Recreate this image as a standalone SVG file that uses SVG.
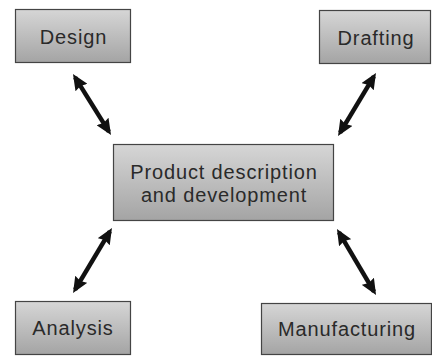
<svg xmlns="http://www.w3.org/2000/svg" width="432" height="356" viewBox="0 0 432 356">
<style>
.box{fill:url(#g);stroke:#444;stroke-width:1.2}
.lbl{font-family:"Liberation Sans",Arial,sans-serif;font-size:20px;letter-spacing:0.85px;fill:#2a2a2a;text-anchor:middle}
.con{stroke:#111;stroke-width:4.5;fill:none;marker-start:url(#ah);marker-end:url(#ah)}
</style>
<defs>
<linearGradient id="g" x1="0" y1="0" x2="0" y2="1">
<stop offset="0" stop-color="#d6d6d6"/>
<stop offset="1" stop-color="#a4a4a4"/>
</linearGradient>
<marker id="ah" markerUnits="userSpaceOnUse" markerWidth="16" markerHeight="14" viewBox="0 0 16 14" refX="12" refY="7" orient="auto-start-reverse">
<path d="M0,0 L16,7 L0,14 L2,7 z" fill="#111"/>
</marker>
</defs>
<rect width="432" height="356" fill="#fff"/>
<g id="connectors">
<line class="con" x1="75.1" y1="77.4" x2="108.9" y2="131.6"/>
<line class="con" x1="373.9" y1="76.4" x2="340.1" y2="132.6"/>
<line class="con" x1="109.9" y1="231.4" x2="75.1" y2="289.6"/>
<line class="con" x1="339" y1="232.4" x2="374" y2="291.6"/>
</g>
<g id="design">
<rect class="box" x="15.5" y="9.5" width="115" height="53"/>
<text class="lbl" x="73.5" y="44">Design</text>
</g>
<g id="drafting">
<rect class="box" x="319.5" y="10.5" width="111" height="53"/>
<text class="lbl" x="376" y="45">Drafting</text>
</g>
<g id="product">
<rect class="box" x="113.5" y="144.5" width="220" height="76"/>
<text class="lbl" x="224" y="179">Product description</text>
<text class="lbl" x="224" y="202">and development</text>
</g>
<g id="analysis">
<rect class="box" x="15.5" y="301.5" width="115" height="53"/>
<text class="lbl" x="73" y="335">Analysis</text>
</g>
<g id="manufacturing">
<rect class="box" x="261.5" y="303.5" width="170" height="51"/>
<text class="lbl" x="347" y="336">Manufacturing</text>
</g>
</svg>
